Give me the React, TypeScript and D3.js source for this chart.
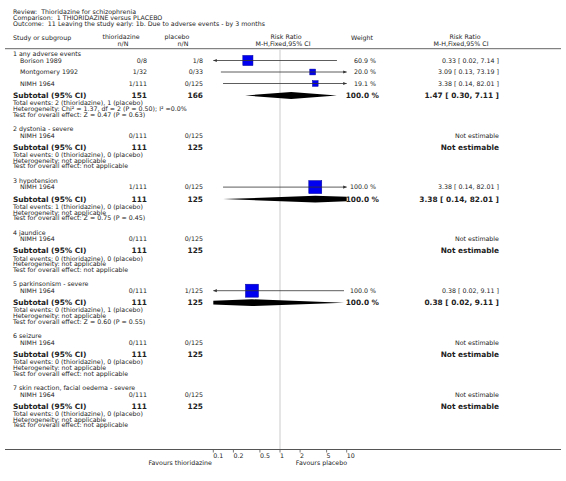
import React from "react";
import * as d3 from "d3";

// ---------- data ----------
const titleLines = [
  "Review:  Thioridazine for schizophrenia",
  "Comparison:  1 THIORIDAZINE versus PLACEBO",
  "Outcome:  11 Leaving the study early: 1b. Due to adverse events - by 3 months",
];
const groupNames = [
  "1 any adverse events",
  "2 dystonia - severe",
  "3 hypotension",
  "4 jaundice",
  "5 parkinsonism - severe",
  "6 seizure",
  "7 skin reaction, facial oedema - severe",
];
const studyGroup = [0, 0, 0, 1, 2, 3, 4, 5, 6];
const studyNames = ["Borison 1989", "Montgomery 1992", "NIMH 1964", "NIMH 1964", "NIMH 1964", "NIMH 1964", "NIMH 1964", "NIMH 1964", "NIMH 1964"];
const expCells = ["0/8", "1/32", "1/111", "0/111", "1/111", "0/111", "0/111", "0/111", "0/111"];
const ctlCells = ["1/8", "0/33", "0/125", "0/125", "0/125", "0/125", "1/125", "0/125", "0/125"];
const studyRR: (number | null)[] = [0.33, 3.09, 3.38, null, 3.38, null, 0.38, null, null];
const studyLo: (number | null)[] = [0.02, 0.13, 0.14, null, 0.14, null, 0.02, null, null];
const studyHi: (number | null)[] = [7.14, 73.19, 82.01, null, 82.01, null, 9.11, null, null];
const studyWeight: (number | null)[] = [60.9, 20.0, 19.1, null, 100.0, null, 100.0, null, null];

const subExpN = [151, 111, 111, 111, 111, 111, 111];
const subCtlN = [166, 125, 125, 125, 125, 125, 125];
const subRR: (number | null)[] = [1.47, null, 3.38, null, 0.38, null, null];
const subLo: (number | null)[] = [0.3, null, 0.14, null, 0.02, null, null];
const subHi: (number | null)[] = [7.11, null, 82.01, null, 9.11, null, null];
const subEvents = [
  "Total events: 2 (thioridazine), 1 (placebo)",
  "Total events: 0 (thioridazine), 0 (placebo)",
  "Total events: 1 (thioridazine), 0 (placebo)",
  "Total events: 0 (thioridazine), 0 (placebo)",
  "Total events: 0 (thioridazine), 1 (placebo)",
  "Total events: 0 (thioridazine), 0 (placebo)",
  "Total events: 0 (thioridazine), 0 (placebo)",
];
const subHet = [
  "Heterogeneity: Chi² = 1.37, df = 2 (P = 0.50); I² =0.0%",
  "Heterogeneity: not applicable",
  "Heterogeneity: not applicable",
  "Heterogeneity: not applicable",
  "Heterogeneity: not applicable",
  "Heterogeneity: not applicable",
  "Heterogeneity: not applicable",
];
const subTest = [
  "Test for overall effect: Z = 0.47 (P = 0.63)",
  "Test for overall effect: not applicable",
  "Test for overall effect: Z = 0.75 (P = 0.45)",
  "Test for overall effect: not applicable",
  "Test for overall effect: Z = 0.60 (P = 0.55)",
  "Test for overall effect: not applicable",
  "Test for overall effect: not applicable",
];
const tickValues = [0.1, 0.2, 0.5, 1, 2, 5, 10];
const tickLabels = ["0.1", "0.2", "0.5", "1", "2", "5", "10"];
const favoursLeft = "Favours thioridazine";
const favoursRight = "Favours placebo";

// ---------- layout ----------
const W = 566;
const H = 481;
const FONT = "DejaVu Sans, Verdana, sans-serif";
const TXT = "#222";
const fs = 6.3;
const fsB = 7.4;

const x = d3.scaleLog().domain([0.1, 10]).range([213.3, 346.7]);
const sq = d3.scaleSqrt().domain([0, 100]).range([0, 13]);

const fmt2 = (v: number) => v.toFixed(2);
const ciText = (r: number, l: number, h: number) => `${fmt2(r)} [ ${fmt2(l)}, ${fmt2(h)} ]`;

const colStudy = 13;
const colStudyIndent = 20;
const colExp = 147;
const colCtl = 203;
const colWeight = 376;
const colWeightB = 379;
const colCI = 499;

export default function App() {
  const nodes: React.ReactNode[] = [];
  let y = 54;
  let key = 0;
  const T = (props: any, s: string) => (
    <text key={key++} fontFamily={FONT} fill={TXT} dy="0.35em" {...props}>
      {s}
    </text>
  );
  const [x0, x1] = x.range();

  const ciLine = (lo: number, hi: number, yy: number) => {
    const a = Math.max(x0, x(lo));
    const b = Math.min(x1, x(hi));
    const els: React.ReactNode[] = [
      <line key={key++} x1={a} x2={b} y1={yy} y2={yy} stroke="#333" strokeWidth={0.8} />,
    ];
    if (x(lo) < x0) {
      els.push(<path key={key++} d={`M${a},${yy} l3.5,-1.6 l0,3.2 Z`} fill="#333" />);
    }
    if (x(hi) > x1) {
      els.push(<path key={key++} d={`M${b},${yy} l-3.5,-1.6 l0,3.2 Z`} fill="#333" />);
    }
    return els;
  };

  groupNames.forEach((g, gi) => {
    nodes.push(T({ x: colStudy, y, fontSize: fs }, g));
    const idx = studyGroup.map((sg, i) => (sg === gi ? i : -1)).filter((i) => i >= 0);
    let sy = y + 6.5;
    idx.forEach((i, k) => {
      if (k > 0) sy += 11.5;
      nodes.push(T({ x: colStudyIndent, y: sy, fontSize: fs }, studyNames[i]));
      nodes.push(T({ x: colExp, y: sy, fontSize: fs, textAnchor: "end" }, expCells[i]));
      nodes.push(T({ x: colCtl, y: sy, fontSize: fs, textAnchor: "end" }, ctlCells[i]));
      const r = studyRR[i];
      if (r != null) {
        const s = sq(studyWeight[i] as number);
        nodes.push(
          <rect key={key++} x={x(r) - s / 2} y={sy - s / 2} width={s} height={s} fill="#0000f0" stroke="#00009a" strokeWidth={0.5} />
        );
        nodes.push(...ciLine(studyLo[i] as number, studyHi[i] as number, sy));
        nodes.push(T({ x: colWeight, y: sy, fontSize: fs, textAnchor: "end" }, `${(studyWeight[i] as number).toFixed(1)} %`));
        nodes.push(T({ x: colCI, y: sy, fontSize: fs, textAnchor: "end" }, ciText(r, studyLo[i] as number, studyHi[i] as number)));
      } else {
        nodes.push(T({ x: colCI, y: sy, fontSize: fs, textAnchor: "end" }, "Not estimable"));
      }
    });
    const ty = sy + 12;
    nodes.push(T({ x: colStudy, y: ty, fontSize: fsB, fontWeight: "bold" }, "Subtotal (95% CI)"));
    nodes.push(T({ x: colExp, y: ty, fontSize: fsB, fontWeight: "bold", textAnchor: "end" }, String(subExpN[gi])));
    nodes.push(T({ x: colCtl, y: ty, fontSize: fsB, fontWeight: "bold", textAnchor: "end" }, String(subCtlN[gi])));
    const r = subRR[gi];
    if (r != null) {
      const lo = subLo[gi] as number;
      const hi = subHi[gi] as number;
      const h = 3.4;
      nodes.push(
        <path
          key={key++}
          clipPath="url(#plotClip)"
          d={`M${x(lo)},${ty} L${x(r)},${ty - h} L${x(hi)},${ty} L${x(r)},${ty + h} Z`}
          fill="#000"
        />
      );
      nodes.push(T({ x: colWeightB, y: ty, fontSize: fsB, fontWeight: "bold", textAnchor: "end" }, "100.0 %"));
      nodes.push(T({ x: colCI, y: ty, fontSize: fsB, fontWeight: "bold", textAnchor: "end" }, ciText(r, lo, hi)));
    } else {
      nodes.push(T({ x: colCI, y: ty, fontSize: fsB, fontWeight: "bold", textAnchor: "end" }, "Not estimable"));
    }
    const ey = ty + 7.5;
    nodes.push(T({ x: colStudy, y: ey, fontSize: fs }, subEvents[gi]));
    nodes.push(T({ x: colStudy, y: ey + 5.7, fontSize: fs }, subHet[gi]));
    nodes.push(T({ x: colStudy, y: ey + 11.4, fontSize: fs }, subTest[gi]));
    y = ey + 11.4 + 14.4;
  });

  const axisY = 449.5;

  return (
    <svg width={W} height={H} style={{ position: "absolute", left: 0, top: 0, background: "#fff" }}>
      <defs>
        <clipPath id="plotClip">
          <rect x={x0} y={0} width={x1 - x0} height={H} />
        </clipPath>
      </defs>
      <rect x={0} y={0} width={W} height={H} fill="#fff" />
      {titleLines.map((t, i) => (
        <text key={"t" + i} x={13} y={11.5 + i * 6.2} dy="0.35em" fontFamily={FONT} fontSize={fs} fill={TXT} style={{ whiteSpace: "pre" }}>
          {t}
        </text>
      ))}
      {/* headers */}
      <text x={13} y={37.5} dy="0.35em" fontFamily={FONT} fontSize={fs} fill={TXT}>Study or subgroup</text>
      <text x={121} y={37} dy="0.35em" fontFamily={FONT} fontSize={fs} fill={TXT} textAnchor="middle">thioridazine</text>
      <text x={123} y={43.5} dy="0.35em" fontFamily={FONT} fontSize={fs} fill={TXT} textAnchor="middle">n/N</text>
      <text x={177} y={37} dy="0.35em" fontFamily={FONT} fontSize={fs} fill={TXT} textAnchor="middle">placebo</text>
      <text x={183} y={43.5} dy="0.35em" fontFamily={FONT} fontSize={fs} fill={TXT} textAnchor="middle">n/N</text>
      <text x={286} y={37} dy="0.35em" fontFamily={FONT} fontSize={fs} fill={TXT} textAnchor="middle">Risk Ratio</text>
      <text x={283} y={43.5} dy="0.35em" fontFamily={FONT} fontSize={fs} fill={TXT} textAnchor="middle">M-H,Fixed,95% CI</text>
      <text x={373} y={37.5} dy="0.35em" fontFamily={FONT} fontSize={fs} fill={TXT} textAnchor="end">Weight</text>
      <text x={465} y={37} dy="0.35em" fontFamily={FONT} fontSize={fs} fill={TXT} textAnchor="middle">Risk Ratio</text>
      <text x={461} y={43.5} dy="0.35em" fontFamily={FONT} fontSize={fs} fill={TXT} textAnchor="middle">M-H,Fixed,95% CI</text>
      <line x1={5} x2={561} y1={48.7} y2={48.7} stroke="#666" strokeWidth={1} />
      {/* null line */}
      <line x1={x(1)} x2={x(1)} y1={49} y2={axisY} stroke="#ddd" strokeWidth={1.5} />
      {nodes}
      {/* axis */}
      <line x1={5} x2={561} y1={axisY} y2={axisY} stroke="#555" strokeWidth={1} />
      {tickValues.map((v, i) => (
        <g key={"k" + i}>
          <line x1={x(v)} x2={x(v)} y1={axisY} y2={axisY + 3} stroke="#555" strokeWidth={0.8} />
          <text x={x(v)} y={455.5} dy="0.35em" fontFamily={FONT} fontSize={fs} fill={TXT}>{tickLabels[i]}</text>
        </g>
      ))}
      <text x={212} y={462.5} dy="0.35em" fontFamily={FONT} fontSize={fs} fill={TXT} textAnchor="end">{favoursLeft}</text>
      <text x={347} y={462.5} dy="0.35em" fontFamily={FONT} fontSize={fs} fill={TXT} textAnchor="end">{favoursRight}</text>
    </svg>
  );
}
